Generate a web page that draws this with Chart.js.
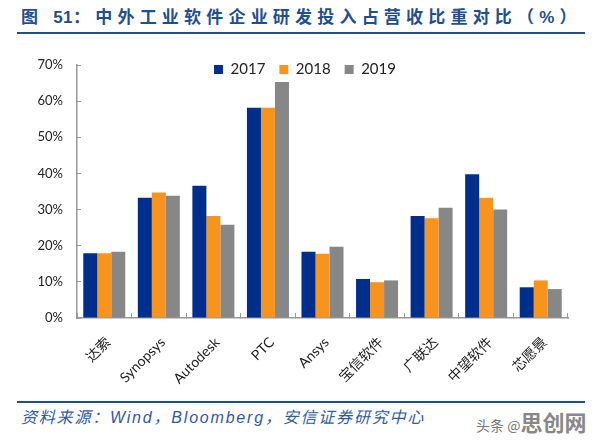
<!DOCTYPE html>
<html><head><meta charset="utf-8">
<script src="https://cdn.jsdelivr.net/npm/chart.js@4.4.0/dist/chart.umd.min.js"></script>
<style>
html,body{margin:0;padding:0;background:#fff;width:596px;height:441px;overflow:hidden;position:relative;font-family:'Noto Sans CJK SC',sans-serif}
#title{position:absolute;left:21px;top:3px;font-size:17px;font-weight:bold;color:#1F4E91;letter-spacing:5.2px;white-space:nowrap;font-family:'Liberation Sans','Noto Sans CJK SC',sans-serif}
#title .n{letter-spacing:0.5px}
#tline{position:absolute;left:17px;width:568px;top:32px;height:2px;background:#1F4E91}
#c{position:absolute;left:0;top:0}
#bline{position:absolute;left:17px;width:568px;top:401px;height:2px;background:#1F4E91}
#src{position:absolute;left:21px;top:404px;font-size:16px;letter-spacing:1.8px;font-style:italic;color:#2F5AA6;white-space:nowrap;font-family:'Liberation Sans','Noto Sans CJK SC',sans-serif}
#wm{position:absolute;left:476px;top:405px;color:#777;white-space:nowrap;font-family:'Noto Sans CJK SC',sans-serif}
#wm .a{font-size:14px}
#wm .b{font-size:22px;font-weight:bold;color:#888}
</style></head>
<body>
<div id="title">图 <span class="n">51</span>：中外工业软件企业研发投入占营收比重对比（%）</div>
<div id="tline"></div>
<canvas id="c" width="596" height="390"></canvas>
<div id="bline"></div>
<div id="src">资料来源：Wind，Bloomberg，安信证券研究中心</div>
<div id="wm"><span class="a">头条 @</span><span class="b">思创网</span></div>
<script>
const categories = ['达索','Synopsys','Autodesk','PTC','Ansys','宝信软件','广联达','中望软件','芯愿景'];
const seriesNames = ['2017','2018','2019'];
const v2017 = [17.9, 33.3, 36.6, 58.2, 18.3, 10.8, 28.2, 39.8, 8.5];
const v2018 = [17.9, 34.7, 28.2, 58.2, 17.8, 9.9, 27.6, 33.3, 10.4];
const v2019 = [18.3, 33.8, 25.8, 65.3, 19.7, 10.4, 30.5, 30.0, 8.0];
const yTicks = [0, 10, 20, 30, 40, 50, 60, 70];

const colors = ['#002E8C', '#F7941D', '#878787'];
const FONT = "Lato, 'Noto Sans CJK SC', sans-serif";

const legendFix = {
  id: 'legendFix',
  beforeUpdate(chart) {
    const lg = chart.legend;
    if (lg && !lg._fixed) {
      const orig = lg.fit;
      lg.fit = function () { orig.call(this); this.height = 17; };
      lg._fixed = true;
    }
  },
  afterLayout(chart) {
    const lg = chart.legend;
    lg.left += 21; lg.right += 21; lg.bottom = lg.top + 40;
  }
};

new Chart(document.getElementById('c'), {
  type: 'bar',
  data: {
    labels: categories,
    datasets: [v2017, v2018, v2019].map((d, i) => ({
      label: seriesNames[i], data: d, backgroundColor: colors[i], borderWidth: 0,
      categoryPercentage: 0.77, barPercentage: 1.0
    }))
  },
  plugins: [legendFix],
  options: {
    responsive: false,
    animation: false,
    devicePixelRatio: 1,
    layout: { padding: { top: 48, left: 0, right: 28, bottom: 0 } },
    plugins: {
      title: { display: false },
      tooltip: { enabled: false },
      legend: {
        position: 'top',
        labels: { boxWidth: 9, boxHeight: 9, padding: 14, color: '#222', font: { family: FONT, size: 15 } }
      }
    },
    scales: {
      x: {
        grid: { display: true, drawOnChartArea: false, drawTicks: true, tickLength: -5, color: '#999', lineWidth: 1 },
        border: { display: true, color: '#999', width: 1.5 },
        ticks: { autoSkip: false, minRotation: 45, maxRotation: 45, padding: 21, labelOffset: 4, color: '#222', font: { family: FONT, size: 14 } },
        afterFit(s) { s.height = 72; }
      },
      y: {
        min: 0, max: 70,
        afterBuildTicks(s) { s.ticks = yTicks.map(v => ({ value: v })); },
        grid: { display: true, drawOnChartArea: false, drawTicks: true, tickLength: -4, color: '#999', lineWidth: 1 },
        border: { display: true, color: '#999', width: 1.5 },
        ticks: { padding: 18, color: '#222', font: { family: FONT, size: 13 }, callback: v => v + '%' },
        afterFit(s) { s.width = 77; }
      }
    }
  }
});
</script>
</body></html>
